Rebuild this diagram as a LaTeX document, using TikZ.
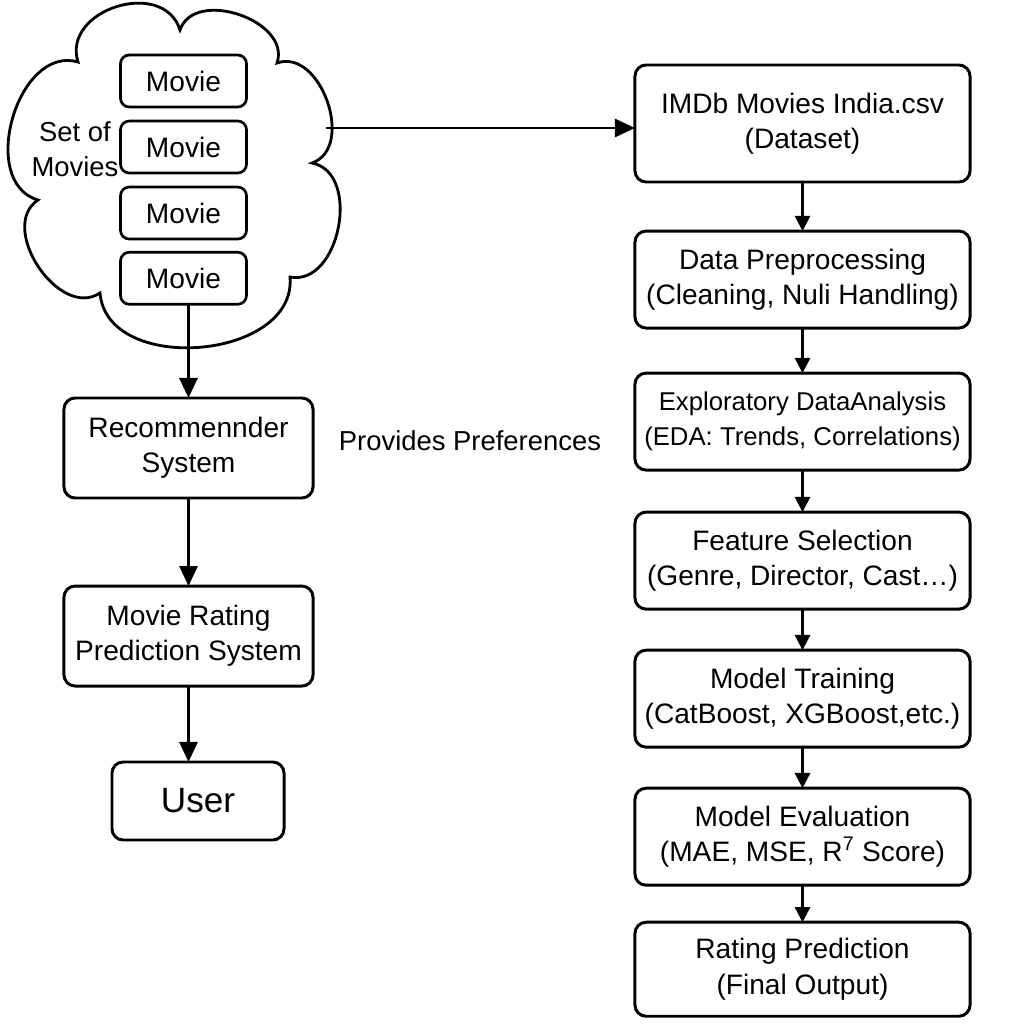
\documentclass[tikz,border=0pt]{standalone}
\usepackage{fontspec}
\setmainfont{Liberation Sans}
\usetikzlibrary{arrows.meta,positioning}

\begin{document}
\begin{tikzpicture}[x=0.025cm,y=-0.025cm,
	box/.style={draw, line width=2.1pt, rounded corners=0.28cm, align=center, inner sep=0pt, outer sep=0pt, font=\fontsize{20}{25}\selectfont},
	movie/.style={box, line width=1.9pt, rounded corners=0.22cm, minimum width=3.15cm, minimum height=1.3cm},
	leftbox/.style={box, minimum width=6.225cm, minimum height=2.5cm},
	rightbox/.style={box, minimum width=8.375cm, minimum height=2.425cm},
	lbl/.style={align=center, inner sep=0pt, font=\fontsize{19.5}{25}\selectfont},
	puff/.style={bend left=90, looseness=1.12},
	arr/.style={-{Triangle[length=0.5cm,width=0.45cm]}, line width=2.1pt},
	arrs/.style={-{Triangle[length=0.38cm,width=0.38cm]}, line width=1.8pt}]
	\useasboundingbox (0,0) rectangle (1024,1024);

	\draw[line width=2pt] (78,62) to[puff, looseness=1.32] (180,30) to[puff] (277,63) to[puff] (312,163)
		to[puff] (290,277) to[puff] (100,293) to[puff] (38,200) to[puff] (78,62) -- cycle;
	\coordinate (cout) at (326,128);
	\node[lbl] (setlbl) at (75,149) {Set of\\Movies};
	\node[movie] (m1) at (183.5,81) {Movie};
	\node[movie, below=0.35cm of m1] (m2) {Movie};
	\node[movie, below=0.35cm of m2] (m3) {Movie};
	\node[movie, below=0.33cm of m3] (m4) {Movie};

	\node[leftbox] (rec) at (188.5,448) {Recommennder\\System};
	\node[leftbox, below=2.2cm of rec] (mrp) {Movie Rating\\Prediction System};
	\node[box, minimum width=4.3cm, minimum height=1.95cm, font=\fontsize{25}{30}\selectfont] (user) at (198,801) {User};
	\node[lbl] (pref) at (470,441) {Provides Preferences};

	\node[rightbox, minimum height=2.925cm] (imdb) at (802.5,123.5) {IMDb Movies India.csv\\(Dataset)};
	\node[rightbox, below=1.225cm of imdb] (prep) {Data Preprocessing\\(Cleaning, Nuli Handling)};
	\node[rightbox, below=1.125cm of prep, font=\fontsize{18.3}{25}\selectfont] (eda) {Exploratory DataAnalysis\\(EDA: Trends, Correlations)};
	\node[rightbox, below=1.05cm of eda] (feat) {Feature Selection\\(Genre, Director, Cast…)};
	\node[rightbox, below=1.025cm of feat] (train) {Model Training\\(CatBoost, XGBoost,etc.)};
	\node[rightbox, below=1.025cm of train] (eval) {Model Evaluation\\(MAE, MSE, R\textsuperscript{7} Score)};
	\node[rightbox, minimum height=2.35cm, below=0.925cm of eval] (pred) {Rating Prediction\\(Final Output)};

	\draw[arr] (cout) -- (cout -| imdb.west);
	\draw[arr] (rec.north |- m4.south) -- (rec.north);
	\draw[arr] (rec) -- (mrp);
	\draw[arr] (mrp.south) -- (mrp.south |- user.north);

	\draw[arrs] (imdb) -- (prep);
	\draw[arrs] (prep) -- (eda);
	\draw[arrs] (eda) -- (feat);
	\draw[arrs] (feat) -- (train);
	\draw[arrs] (train) -- (eval);
	\draw[arrs] (eval) -- (pred);
\end{tikzpicture}
\end{document}
